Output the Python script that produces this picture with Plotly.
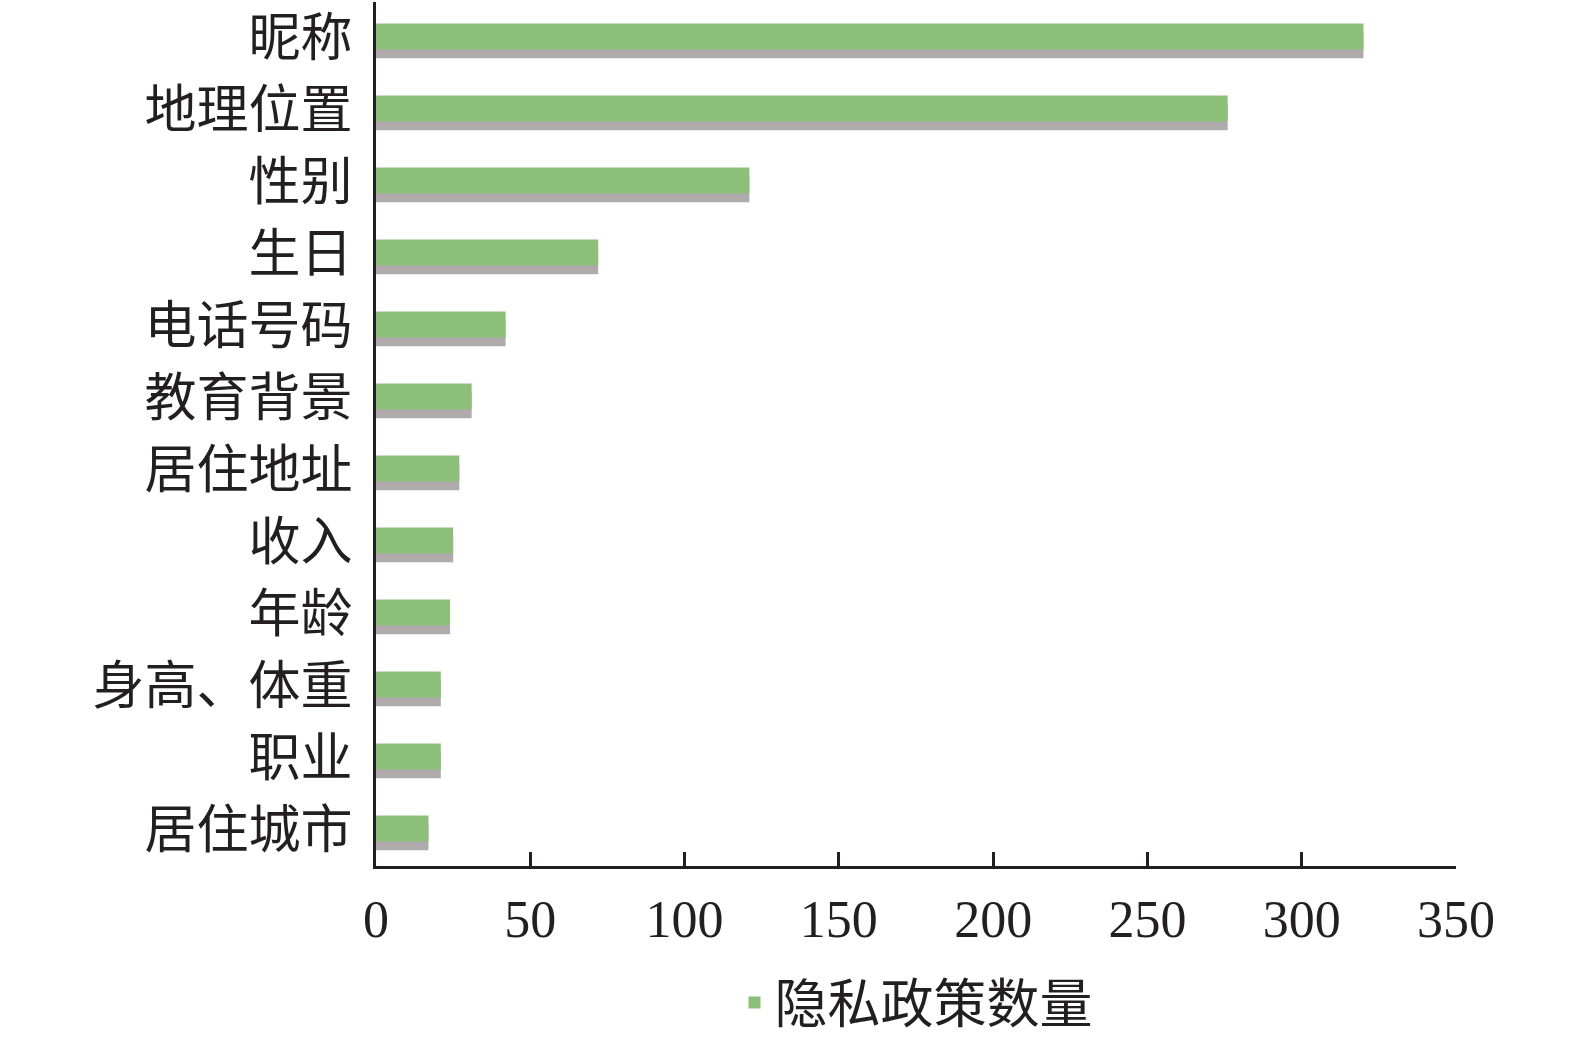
import plotly.graph_objects as go

# categories listed top to bottom as in the figure
items = ["昵称", "地理位置", "性别", "生日", "电话号码", "教育背景",
         "居住地址", "收入", "年龄", "身高、体重", "职业", "居住城市"]
counts = [320, 276, 121, 72, 42, 31, 27, 25, 24, 21, 21, 17]
series_name = "隐私政策数量"
x_ticks = [0, 50, 100, 150, 200, 250, 300, 350]

green = "#8cbf78"

fig = go.Figure()
# soft drop shadow under each bar
fig.add_trace(go.Bar(
    y=items, x=counts, orientation="h",
    width=0.36, offset=-0.08,
    marker=dict(color="rgba(95,85,90,0.5)", line=dict(width=0)),
    showlegend=False, hoverinfo="skip",
))
fig.add_trace(go.Bar(
    y=items, x=counts, orientation="h", name=series_name,
    width=0.36, offset=-0.2,
    marker=dict(color=green, line=dict(width=0)),
))

fig.update_layout(
    width=1575, height=1042,
    barmode="overlay",
    plot_bgcolor="white", paper_bgcolor="white",
    margin=dict(l=376, r=119, t=2, b=176, autoexpand=False),
    font=dict(family="Liberation Serif, Noto Sans CJK SC", size=50, color="#231f20"),
    showlegend=True,
    legend=dict(orientation="h", x=0.5, xanchor="center", y=-0.158, yanchor="middle",
                font=dict(family="Noto Sans CJK SC", size=53),
                itemsizing="constant"),
)
fig.update_xaxes(
    range=[0, 350], tickvals=x_ticks, showgrid=False, zeroline=False,
    showline=True, linecolor="#231f20", linewidth=3,
    ticks="inside", ticklen=14, tickwidth=3, tickcolor="#231f20",
    tickfont=dict(family="Liberation Serif", size=52),
    ticklabelstandoff=6, automargin=False,
)
fig.update_yaxes(
    autorange="reversed", showgrid=False, zeroline=False,
    showline=True, linecolor="#231f20", linewidth=3, ticks="",
    tickfont=dict(family="Noto Sans CJK SC", size=52),
    ticklabelstandoff=10, automargin=False,
)

# drop the page's default body margin so the figure sits at the window corner
fig.write_html("out.html", config={"displayModeBar": False},
               post_script="document.body.style.margin='0';")
